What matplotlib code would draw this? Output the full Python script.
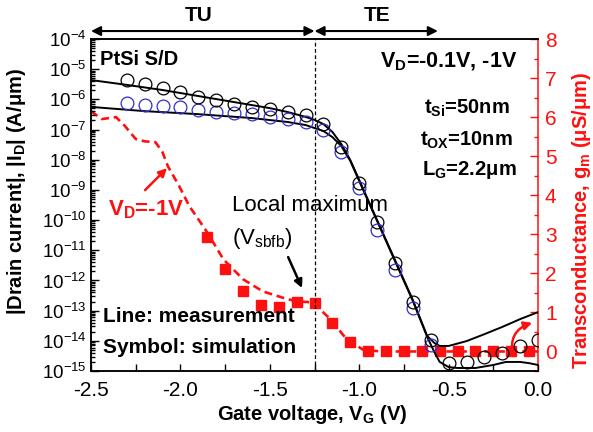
import matplotlib
matplotlib.use("Agg")
import matplotlib.pyplot as plt
from matplotlib.ticker import LogLocator, MultipleLocator, NullFormatter
import numpy as np

plt.rcParams['font.family'] = ['Liberation Sans', 'DejaVu Sans']
plt.rcParams['mathtext.default'] = 'regular'

# simulated |ID| (log10 A/um), symbols
vg_sim = [-2.3, -2.2, -2.1, -2.0, -1.9, -1.8, -1.7, -1.6, -1.5, -1.4, -1.3, -1.2,
          -1.1, -1.0, -0.9, -0.8, -0.7, -0.6, -0.5, -0.4, -0.3, -0.2, -0.1, 0.0]
id_sim_1v = [-5.36, -5.49, -5.62, -5.76, -5.92, -6.02, -6.15, -6.25, -6.32, -6.42, -6.52, -6.82,
             -7.58, -8.77, -10.06, -11.42, -12.71, -13.97, -14.73, -14.70, -14.54, -14.40, -14.17, -13.97]
vg_sim_01 = vg_sim[:18]
id_sim_01v = [-6.12, -6.19, -6.22, -6.25, -6.35, -6.42, -6.45, -6.49, -6.58, -6.65, -6.75, -7.02,
              -7.74, -8.94, -10.33, -11.65, -12.91, -14.14]

# measured |ID| (log10 A/um), lines
vg_meas_1v = [-2.5, -2.3, -2.1, -1.9, -1.7, -1.5, -1.4, -1.3, -1.25, -1.2, -1.15, -1.1, -1.05, -1.0,
              -0.95, -0.9, -0.8, -0.7, -0.62, -0.58, -0.55, -0.5, -0.4, -0.3, -0.2, -0.1, 0.0]
id_meas_1v = [-5.36, -5.52, -5.69, -5.89, -6.09, -6.29, -6.42, -6.58, -6.68, -6.82, -7.08, -7.48, -8.01, -8.67,
              -9.34, -10.0, -11.32, -12.65, -13.84, -14.07, -14.17, -14.17, -14.01, -13.78, -13.54, -13.28, -13.05]
vg_meas_01 = [-2.5, -2.2, -1.9, -1.6, -1.4, -1.3, -1.25, -1.2, -1.15, -1.1, -1.05, -1.0, -0.95, -0.9,
              -0.8, -0.7, -0.62, -0.58, -0.55, -0.5, -0.45, -0.35, -0.25, -0.18, -0.1, -0.05, 0.0]
id_meas_01v = [-6.25, -6.39, -6.49, -6.62, -6.75, -6.85, -6.95, -7.05, -7.25, -7.55, -8.04, -8.71, -9.37, -10.03,
               -11.36, -12.68, -13.87, -14.37, -14.70, -14.87, -14.90, -14.90, -14.80, -14.70, -14.70, -14.74, -14.80]

# transconductance (uS/um) at VD=-1V
vg_gm_meas = [-2.5, -2.44, -2.36, -2.31, -2.25, -2.20, -2.14, -2.10, -2.07, -2.01, -1.95, -1.85, -1.76,
              -1.65, -1.54, -1.43, -1.35, -1.26, -1.16, -1.07, -0.98, -0.88, 0.0]
gm_meas = [6.15, 5.95, 6.0, 5.77, 5.44, 5.38, 5.36, 5.10, 4.74, 4.26, 3.72, 3.05, 2.36,
           1.85, 1.54, 1.38, 1.28, 1.26, 0.82, 0.31, 0.05, 0.0, 0.0]
vg_gm_sim = [-1.85, -1.75, -1.65, -1.55, -1.45, -1.35, -1.25, -1.15, -1.05, -0.95,
             -0.85, -0.75, -0.65, -0.55, -0.45, -0.35, -0.25, -0.15, -0.05]
gm_sim = [2.92, 2.10, 1.54, 1.18, 1.13, 1.26, 1.23, 0.74, 0.23, 0.0,
          0.0, 0.0, 0.0, 0.0, 0.0, 0.0, 0.0, 0.0, 0.0]

red = '#ff1010'
blue = '#2f2fd0'

fig = plt.figure(figsize=(5.93, 4.32), dpi=100)
ax = fig.add_axes([0.1535, 0.1412, 0.7538, 0.7685])
ax2 = ax.twinx()
ax.set_zorder(ax2.get_zorder() + 1)
ax.patch.set_visible(False)

ax.plot(vg_meas_1v, 10 ** np.array(id_meas_1v), color='black', lw=1.4)
ax.plot(vg_meas_01, 10 ** np.array(id_meas_01v), color='black', lw=1.4)
ax.plot(vg_sim_01, 10 ** np.array(id_sim_01v), 'o', ms=9.2, mfc='none', mec=blue, mew=0.9)
ax.plot(vg_sim, 10 ** np.array(id_sim_1v), 'o', ms=9.2, mfc='none', mec='black', mew=0.9)

ax2.plot(vg_gm_meas, gm_meas, color=red, lw=1.9, dashes=(3.0, 1.8))
ax2.plot(vg_gm_sim, gm_sim, 's', color=red, ms=6.8)

ax.set_yscale('log')
ax.set_xlim(-2.5, 0.0)
ax.set_ylim(1e-15, 1e-4)
ax2.set_ylim(-0.5, 8)

ax.yaxis.set_major_locator(LogLocator(base=10, numticks=20))
ax.yaxis.set_minor_locator(LogLocator(base=10, subs=np.arange(2, 10), numticks=20))
ax.yaxis.set_minor_formatter(NullFormatter())
ax.xaxis.set_major_locator(MultipleLocator(0.5))
ax.xaxis.set_minor_locator(MultipleLocator(0.25))
ax.xaxis.set_major_formatter(plt.FuncFormatter(lambda v, p: '%.1f' % v))
ax2.yaxis.set_major_locator(MultipleLocator(1))
ax2.yaxis.set_minor_locator(MultipleLocator(0.5))

ax.tick_params(axis='both', which='both', direction='in', labelsize=15, width=1)
ax.tick_params(axis='y', which='major', length=6, pad=3, right=False, labelsize=13.5)
ax.tick_params(axis='y', which='minor', length=3, right=False)
ax.tick_params(axis='x', which='both', length=5, pad=7, top=False)
ax2.tick_params(axis='y', which='both', direction='in', colors=red, labelsize=15, pad=5, width=1)
ax2.tick_params(axis='y', which='major', length=6)
ax2.tick_params(axis='y', which='minor', length=3)

for s in ['left', 'bottom', 'top']:
    ax.spines[s].set_linewidth(1.1)
    ax2.spines[s].set_linewidth(1.1)
ax2.spines['right'].set_color(red)
ax.spines['right'].set_visible(False)
ax2.spines['right'].set_linewidth(1.1)

ax.set_xlabel('Gate voltage, V$_G$ (V)', fontsize=14.5, fontweight='bold')
ax.xaxis.set_label_coords(0.495, -0.095)
ax.set_ylabel('|Drain current|, |I$_D$| (A/\u03bcm)', fontsize=14.5, fontweight='bold')
ax.yaxis.set_label_coords(-0.14, 0.54)
ax2.set_ylabel('Transconductance, g$_m$ (\u03bcS/\u03bcm)', fontsize=14.5, fontweight='bold', color=red)
ax2.yaxis.set_label_coords(1.072, 0.455)

ax.axvline(-1.25, color='black', lw=0.9, ls=(0, (3, 2)))

# TU / TE region arrows
arr = dict(arrowstyle='<|-|>', color='black', lw=1.5, mutation_scale=14, shrinkA=0, shrinkB=0)
ax.annotate('', xy=(-1.25, 1.024), xytext=(-2.5, 1.024), xycoords=('data', 'axes fraction'),
            textcoords=('data', 'axes fraction'), arrowprops=arr, annotation_clip=False)
ax.annotate('', xy=(-0.56, 1.024), xytext=(-1.25, 1.024), xycoords=('data', 'axes fraction'),
            textcoords=('data', 'axes fraction'), arrowprops=arr, annotation_clip=False)
ax.text(-1.90, 1.072, 'TU', transform=ax.get_xaxis_transform(), ha='center', va='center',
        fontsize=15, fontweight='bold')
ax.text(-0.90, 1.072, 'TE', transform=ax.get_xaxis_transform(), ha='center', va='center',
        fontsize=15, fontweight='bold')

tr = ax.transAxes
ax.text(0.02, 0.937, 'PtSi S/D', transform=tr, ha='left', va='center', fontsize=14.5, fontweight='bold')
ax.text(0.953, 0.931, 'V$_D$=-0.1V, -1V', transform=tr, ha='right', va='center', fontsize=15.5, fontweight='bold')
ax.text(0.937, 0.792, 't$_{Si}$=50nm', transform=tr, ha='right', va='center', fontsize=14.5, fontweight='bold')
ax.text(0.944, 0.696, 't$_{OX}$=10nm', transform=tr, ha='right', va='center', fontsize=14.5, fontweight='bold')
ax.text(0.953, 0.605, 'L$_G$=2.2\u03bcm', transform=tr, ha='right', va='center', fontsize=14.5, fontweight='bold')
ax.text(0.038, 0.485, 'V$_D$=-1V', transform=tr, ha='left', va='center', fontsize=16, fontweight='bold', color=red)
ax.annotate('', xy=(0.170, 0.611), xytext=(0.121, 0.545), xycoords=tr, textcoords=tr,
            arrowprops=dict(arrowstyle='-|>', color=red, lw=1.8, mutation_scale=12, shrinkA=0, shrinkB=0))
ax.text(0.315, 0.50, 'Local maximum', transform=tr, ha='left', va='center', fontsize=16)
ax.text(0.315, 0.40, '(V$_{sbfb}$)', transform=tr, ha='left', va='center', fontsize=16)
ax.annotate('', xy=(0.472, 0.25), xytext=(0.441, 0.343), xycoords=tr, textcoords=tr,
            arrowprops=dict(arrowstyle='-|>', color='black', lw=1.8, mutation_scale=12, shrinkA=0, shrinkB=0))
ax.text(0.027, 0.163, 'Line: measurement', transform=tr, ha='left', va='center', fontsize=15, fontweight='bold')
ax.text(0.027, 0.072, 'Symbol: simulation', transform=tr, ha='left', va='center', fontsize=15, fontweight='bold')
ax.annotate('', xy=(0.987, 0.145), xytext=(0.944, 0.045), xycoords=tr, textcoords=tr,
            arrowprops=dict(arrowstyle='-|>', color=red, lw=1.8, mutation_scale=12, shrinkA=0, shrinkB=0,
                            connectionstyle='arc3,rad=-0.45'))

fig.savefig('out.png', dpi=100)
